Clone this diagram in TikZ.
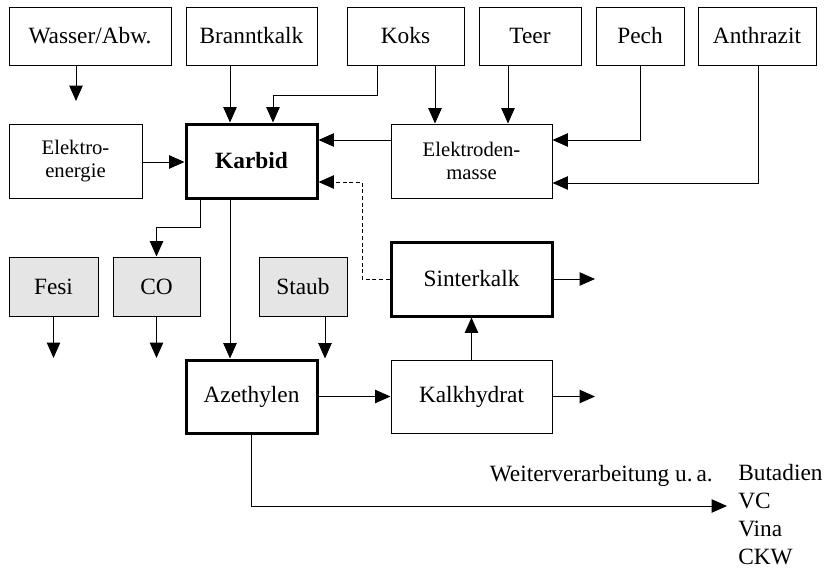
\documentclass[tikz,border=0pt]{standalone}
\usepackage{fontspec}
\setmainfont{Liberation Serif}
\usetikzlibrary{arrows.meta}
\begin{document}
\begin{tikzpicture}[x=0.75pt, y=-0.75pt,
    box/.style={draw, line width=0.75pt, minimum height=55.5pt, inner sep=0pt, font=\fontsize{17.5}{20}\selectfont},
    main/.style={box, line width=2.25pt},
    grey/.style={box, fill=black!10, minimum height=44.25pt},
    two/.style={box, align=center, font=\fontsize{15.5}{17}\selectfont},
    arr/.style={-{Triangle[length=11.5pt,width=10pt]}, line width=0.75pt},
    txt/.style={inner sep=0pt, font=\fontsize{17.5}{21}\selectfont}]
  \useasboundingbox (0,0) rectangle (828,568);
  \node[box, minimum width=121.5pt, minimum height=43.5pt] (wasser) at (90,36) {Wasser/Abw.};
  \node[box, minimum width=98.25pt, minimum height=43.5pt] (brannt) at (251.5,36) {Branntkalk};
  \node[box, minimum width=87.75pt, minimum height=43.5pt] (koks) at (405.5,36) {Koks};
  \node[box, minimum width=76.5pt, minimum height=43.5pt] (teer) at (530,36) {Teer};
  \node[box, minimum width=66pt, minimum height=43.5pt] (pech) at (640,36) {Pech};
  \node[box, minimum width=88.5pt, minimum height=43.5pt] (anthr) at (757,36) {Anthrazit};
  \node[two, minimum width=99.75pt] (energie) at (75.5,161) {Elektro-\\energie};
  \node[main, minimum width=98.25pt, font=\fontsize{17.5}{20}\selectfont\bfseries] (karbid) at (251.5,161) {Karbid};
  \node[two, minimum width=120.75pt] (masse) at (471.5,161) {Elektroden-\\masse};
  \node[grey, minimum width=66.75pt] (fesi) at (53.5,286.5) {Fesi};
  \node[grey, minimum width=65.25pt] (co) at (156.5,286.5) {CO};
  \node[grey, minimum width=66pt] (staub) at (303,286.5) {Staub};
  \node[main, minimum width=120.75pt] (sinter) at (471.5,279) {Sinterkalk};
  \node[main, minimum width=98.25pt, minimum height=54.75pt] (azeth) at (251.5,396.5) {Azethylen};
  \node[box, minimum width=120.75pt, minimum height=54.75pt] (hydrat) at (471.5,396.5) {Kalkhydrat};
  \node[txt, anchor=base east] (weiter) at (713,481) {Weiterverarbeitung u.\,a.};
  \node[txt, anchor=north west, align=left] (produkte) at (738,464) {Butadien\\VC\\Vina\\CKW};
  \coordinate (wout) at (76,101);
  \coordinate (fout) at (53.5,358);
  \coordinate (coout) at (156.5,358);
  \coordinate (sout) at (595,279);
  \coordinate (hout) at (595,396.5);
  \coordinate (aout) at (727,506);
  \draw[arr] (wasser.south -| wout) -- (wout);
  \draw[arr] (brannt.south -| 230,0) -- (karbid.north -| 230,0);
  \draw[arr] (koks.south -| 377,0) -- (377,95) -| (karbid.north -| 273,0);
  \draw[arr] (koks.south -| 435,0) -- (masse.north -| 435,0);
  \draw[arr] (teer.south -| 508,0) -- (masse.north -| 508,0);
  \draw[arr] (pech.south) |- (masse.east |- 0,140);
  \draw[arr] (anthr.south -| 758,0) |- (masse.east |- 0,183);
  \draw[arr] (masse.west |- 0,140) -- (karbid.east |- 0,140);
  \draw[arr] (energie.east |- 0,162) -- (karbid.west |- 0,162);
  \draw[arr, dash pattern=on 3pt off 2pt] (sinter.west) -| (362,182) -- (karbid.east |- 0,182);
  \draw[arr] (karbid.south -| 200,0) -- (200,227) -| (co.north);
  \draw[arr] (karbid.south -| 230,0) -- (azeth.north -| 230,0);
  \draw[arr] (fesi.south) -- (fout);
  \draw[arr] (co.south) -- (coout);
  \draw[arr] (staub.south -| 325,0) -- (azeth.north -| 325,0);
  \draw[arr] (azeth.east) -- (hydrat.west);
  \draw[arr] (hydrat.north) -- (sinter.south);
  \draw[arr] (sinter.east) -- (sout);
  \draw[arr] (hydrat.east) -- (hout);
  \draw[arr] (azeth.south) |- (aout);
\end{tikzpicture}
\end{document}
